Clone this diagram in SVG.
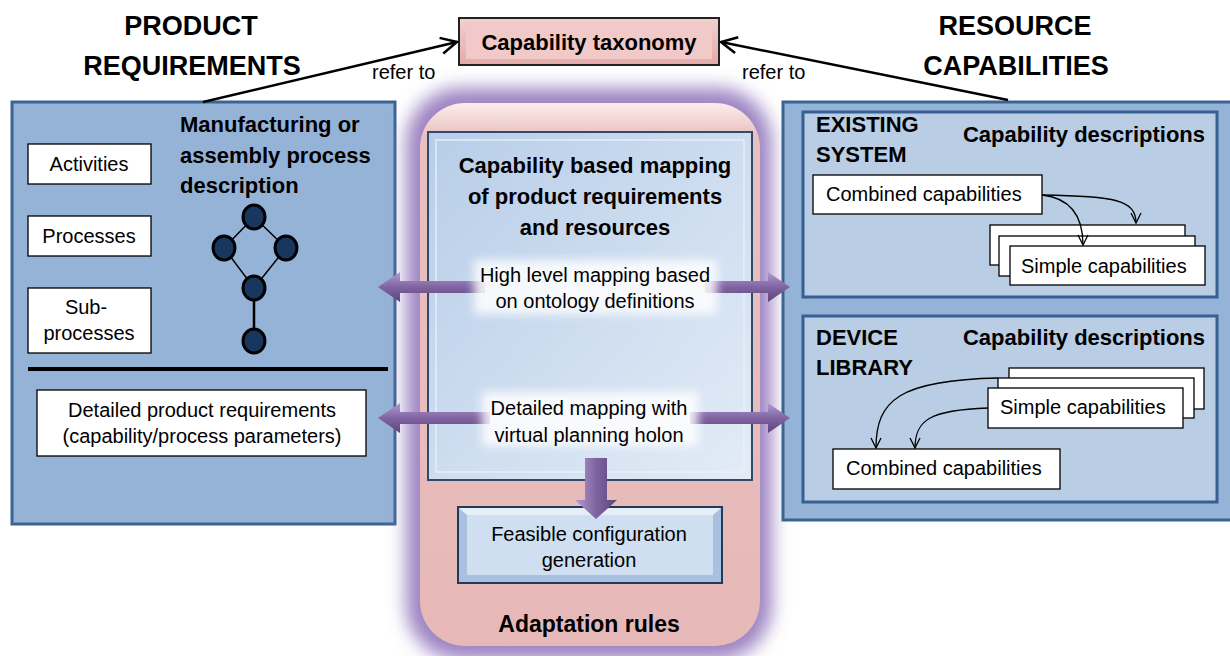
<svg xmlns="http://www.w3.org/2000/svg" width="1230" height="656" viewBox="0 0 1230 656">
<defs>
<style>
.t{font-family:"Liberation Sans",Arial,sans-serif;fill:#000}
.b{font-weight:bold}
.title{font-size:27px;font-weight:bold}
.h{font-size:22px;font-weight:bold}
.r{font-size:20px}
.box{fill:#fff;stroke:#000;stroke-width:1.3}
.panel{fill:#95b3d7;stroke:#3a6494;stroke-width:3}
.inner{fill:#b9cde5;stroke:#376092;stroke-width:3}
.edge{stroke:#000;stroke-width:1.5;fill:none}
.node{fill:#17375e;stroke:#000;stroke-width:3}
.curve{stroke:#000;stroke-width:1.3;fill:none;marker-end:url(#v)}
.refer{stroke:#000;stroke-width:2.5;fill:none;marker-end:url(#v2)}
.parr{fill:url(#pg)}
</style>
<marker id="v" viewBox="0 0 12 12" refX="11" refY="6" markerWidth="12" markerHeight="12" markerUnits="userSpaceOnUse" orient="auto"><path d="M1,1 L11,6 L1,11" fill="none" stroke="#000" stroke-width="1.3"/></marker>
<marker id="v2" viewBox="0 0 20 20" refX="18" refY="10" markerWidth="20" markerHeight="20" markerUnits="userSpaceOnUse" orient="auto"><path d="M2,2 L18,10 L2,18" fill="none" stroke="#000" stroke-width="2.5"/></marker>
<linearGradient id="pg" x1="0" y1="0" x2="0" y2="1"><stop offset="0" stop-color="#b29bd0"/><stop offset="0.5" stop-color="#8064a2"/><stop offset="1" stop-color="#5c4578"/></linearGradient>
<linearGradient id="pgh" x1="0" y1="0" x2="1" y2="0"><stop offset="0" stop-color="#b29bd0"/><stop offset="0.5" stop-color="#8064a2"/><stop offset="1" stop-color="#5c4578"/></linearGradient>
<linearGradient id="pink" x1="0" y1="0" x2="0" y2="1"><stop offset="0" stop-color="#fbeeed"/><stop offset="0.06" stop-color="#e9c0bf"/><stop offset="1" stop-color="#e6b9b8"/></linearGradient>
<linearGradient id="taxo" x1="0" y1="0" x2="0" y2="1"><stop offset="0" stop-color="#f2d0cf"/><stop offset="1" stop-color="#e3aaa9"/></linearGradient>
<linearGradient id="blue" x1="0" y1="0" x2="1" y2="1"><stop offset="0" stop-color="#b7cde8"/><stop offset="1" stop-color="#e3ecf7"/></linearGradient>
<filter id="glow" x="-20%" y="-20%" width="140%" height="140%"><feGaussianBlur stdDeviation="9"/></filter>
<filter id="soft" x="-20%" y="-50%" width="140%" height="200%"><feGaussianBlur stdDeviation="5"/></filter>
</defs>
<rect width="1230" height="656" fill="#fff"/>

<g id="title-product"><text class="t title" text-anchor="middle" x="191" y="35">PRODUCT</text><text class="t title" text-anchor="middle" x="192" y="75">REQUIREMENTS</text></g>
<g id="title-resource"><text class="t title" text-anchor="middle" x="1015" y="35">RESOURCE</text><text class="t title" text-anchor="middle" x="1016" y="75">CAPABILITIES</text></g>

<g id="taxonomy">
<rect x="459" y="18" width="260" height="47" fill="url(#taxo)" stroke="#222" stroke-width="2"/>
<rect x="466" y="24" width="246" height="35" fill="#f0c9c8"/>
<text class="t b" font-size="22" text-anchor="middle" x="589" y="50">Capability taxonomy</text>
</g>

<g id="product-panel">
<rect class="panel" x="12" y="102" width="383" height="422"/>
<text class="t h" x="180" y="132">Manufacturing or</text>
<text class="t h" x="180" y="163">assembly process</text>
<text class="t h" x="180" y="193">description</text>
<g id="activities"><rect class="box" x="28" y="144" width="123" height="40"/><text class="t r" text-anchor="middle" x="89" y="171">Activities</text></g>
<g id="processes"><rect class="box" x="28" y="216" width="123" height="40"/><text class="t r" text-anchor="middle" x="89" y="243">Processes</text></g>
<g id="subprocesses"><rect class="box" x="28" y="288" width="123" height="65"/><text class="t r" text-anchor="middle" x="86" y="314">Sub-</text><text class="t r" text-anchor="middle" x="89" y="340">processes</text></g>
<line x1="28" y1="369" x2="388" y2="369" stroke="#000" stroke-width="4"/>
<g id="detailed-req"><rect class="box" x="37" y="390" width="329" height="66"/><text class="t r" text-anchor="middle" x="202" y="417">Detailed product requirements</text><text class="t r" text-anchor="middle" x="202" y="443">(capability/process parameters)</text></g>
<g id="process-graph">
<line class="edge" x1="254" y1="217" x2="224" y2="248"/>
<line class="edge" x1="254" y1="217" x2="286" y2="248"/>
<line class="edge" x1="224" y1="248" x2="254" y2="288"/>
<line class="edge" x1="286" y1="248" x2="254" y2="288"/>
<line x1="254" y1="288" x2="254" y2="341" stroke="#000" stroke-width="2.5"/>
<ellipse class="node" cx="254" cy="217" rx="11" ry="12"/>
<ellipse class="node" cx="224" cy="248" rx="11" ry="12"/>
<ellipse class="node" cx="286" cy="248" rx="11" ry="12"/>
<ellipse class="node" cx="254" cy="288" rx="11" ry="12"/>
<ellipse class="node" cx="254" cy="341" rx="11" ry="12"/>
</g>
</g>

<g id="center-column">
<rect x="406" y="88" width="366" height="572" rx="55" fill="#9d84c2" filter="url(#glow)"/>
<rect x="420" y="103" width="340" height="543" rx="45" fill="url(#pink)"/>
<g id="mapping">
<rect x="428" y="132" width="324" height="348" fill="url(#blue)" stroke="#2f4a6a" stroke-width="2"/>
<rect x="436" y="140" width="308" height="332" fill="none" stroke="#e8f0f9" stroke-width="2" opacity="0.7"/>
<text class="t h" text-anchor="middle" x="595" y="173">Capability based mapping</text>
<text class="t h" text-anchor="middle" x="595" y="204">of product requirements</text>
<text class="t h" text-anchor="middle" x="595" y="235">and resources</text>
</g>
<g id="feasible">
<rect x="458" y="507" width="264" height="76" fill="#a9c1df" stroke="#1f3a5a" stroke-width="2"/>
<rect x="467" y="515" width="246" height="60" fill="#cfdef0"/>
<path d="M459,508 L467,515 L713,515 L721,508 Z" fill="#e6eef8"/>
<text class="t r" text-anchor="middle" x="589" y="541">Feasible configuration</text>
<text class="t r" text-anchor="middle" x="589" y="567">generation</text>
</g>
<text class="t b" font-size="23" text-anchor="middle" x="589" y="632">Adaptation rules</text>
</g>

<g id="resource-panel">
<rect class="panel" x="783" y="102" width="452" height="418"/>
<g id="existing-system">
<rect class="inner" x="803" y="112" width="414" height="185"/>
<text class="t h" x="816" y="132">EXISTING</text>
<text class="t h" x="816" y="162">SYSTEM</text>
<text class="t h" text-anchor="end" x="1205" y="142">Capability descriptions</text>
<g id="es-combined"><rect class="box" x="813" y="175" width="229" height="39"/><text class="t r" x="826" y="201">Combined capabilities</text></g>
<g id="es-simple">
<rect class="box" x="990" y="225" width="195" height="40"/>
<rect class="box" x="999" y="236" width="196" height="40"/>
<rect class="box" x="1010" y="246" width="195" height="39"/>
<text class="t r" x="1021" y="273">Simple capabilities</text>
</g>
</g>
<g id="device-library">
<rect class="inner" x="803" y="316" width="414" height="186"/>
<text class="t h" x="816" y="345">DEVICE</text>
<text class="t h" x="816" y="375">LIBRARY</text>
<text class="t h" text-anchor="end" x="1205" y="345">Capability descriptions</text>
<g id="dl-simple">
<rect class="box" x="1009" y="368" width="195" height="41"/>
<rect class="box" x="998" y="378" width="196" height="40"/>
<rect class="box" x="988" y="388" width="195" height="40"/>
<text class="t r" x="1000" y="414">Simple capabilities</text>
</g>
<g id="dl-combined"><rect class="box" x="833" y="449" width="227" height="40"/><text class="t r" x="846" y="475">Combined capabilities</text></g>
</g>
</g>

<g id="connectors">
<path class="refer" d="M203,102 L457,42"/>
<path class="refer" d="M1008,100 L721,42"/>
<text class="t r" x="372" y="79">refer to</text>
<text class="t r" x="742" y="79">refer to</text>
<path class="curve" d="M1042,195 C1115,196 1136,200 1136,223"/>
<path class="curve" d="M1042,195 C1070,198 1083,215 1083,245"/>
<path class="curve" d="M998,378 C900,380 876,400 876,448"/>
<path class="curve" d="M988,408 C930,410 915,420 915,448"/>
<g id="arrows-high">
<path class="parr" d="M378,287 L400,272 L400,281 L485,281 L485,293 L400,293 L400,302 Z"/>
<path class="parr" d="M790,287 L768,272 L768,281 L705,281 L705,293 L768,293 L768,302 Z"/>
</g>
<g id="arrows-detail">
<path class="parr" d="M378,418 L400,403 L400,412 L490,412 L490,424 L400,424 L400,433 Z"/>
<path class="parr" d="M790,418 L768,403 L768,412 L690,412 L690,424 L768,424 L768,433 Z"/>
</g>
<path d="M585,458 L607,458 L607,500 L617,500 L596,519 L575,500 L585,500 Z" fill="url(#pgh)"/>
</g>

<g id="mapping-labels">
<rect x="474" y="260" width="243" height="54" fill="#fff" opacity="0.85" filter="url(#soft)"/>
<text class="t r" text-anchor="middle" x="595" y="282">High level mapping based</text>
<text class="t r" text-anchor="middle" x="595" y="308">on ontology definitions</text>
<rect x="482" y="392" width="216" height="54" fill="#fff" opacity="0.85" filter="url(#soft)"/>
<text class="t r" text-anchor="middle" x="589" y="415">Detailed mapping with</text>
<text class="t r" text-anchor="middle" x="589" y="442">virtual planning holon</text>
</g>
</svg>
